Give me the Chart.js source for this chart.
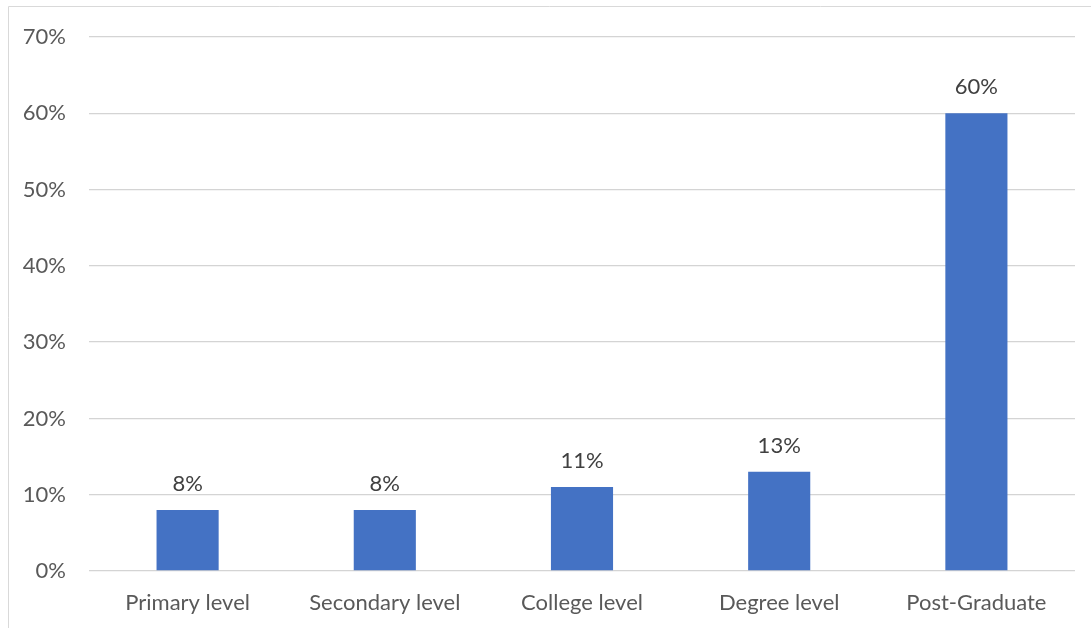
<!DOCTYPE html>
<html>
<head>
<meta charset="utf-8">
<script src="https://cdn.jsdelivr.net/npm/chart.js@4/dist/chart.umd.min.js"></script>
<style>
  html, body { margin: 0; padding: 0; background: #ffffff; }
  #wrap { position: relative; width: 1091px; height: 628px; }
  canvas { display: block; }
</style>
</head>
<body>
<div id="wrap"><canvas id="chart" width="1091" height="628"></canvas></div>
<script>
// Education level of respondents (share of total)
const categories = ["Primary level", "Secondary level", "College level", "Degree level", "Post-Graduate"];
const shares = [8, 8, 11, 13, 60];
const yTicks = [0, 10, 20, 30, 40, 50, 60, 70];

const FONT = "Lato, 'Open Sans', sans-serif";

// Light frame along the top and left edges of the figure
const framePlugin = {
  id: "frame",
  beforeDraw(chart) {
    const ctx = chart.ctx;
    ctx.save();
    ctx.strokeStyle = "#d9d9d9";
    ctx.lineWidth = 1;
    ctx.beginPath();
    ctx.moveTo(8.5, chart.height);
    ctx.lineTo(8.5, 6.5);
    ctx.lineTo(chart.width, 6.5);
    ctx.stroke();
    ctx.restore();
  }
};

// Value labels above each bar
const valueLabels = {
  id: "valueLabels",
  afterDatasetsDraw(chart) {
    const ctx = chart.ctx;
    const meta = chart.getDatasetMeta(0);
    ctx.save();
    ctx.font = "22px " + FONT;
    ctx.fillStyle = "#404040";
    ctx.textAlign = "center";
    ctx.textBaseline = "alphabetic";
    meta.data.forEach((bar, i) => {
      ctx.fillText(shares[i] + "%", bar.x, bar.y - 19);
    });
    ctx.restore();
  }
};

new Chart(document.getElementById("chart"), {
  type: "bar",
  data: {
    labels: categories,
    datasets: [{
      data: shares,
      backgroundColor: "#4472c4",
      borderWidth: 0,
      barPercentage: 0.63,
      categoryPercentage: 0.5
    }]
  },
  options: {
    responsive: false,
    animation: false,
    layout: { padding: { top: 37, right: 16, bottom: 0, left: 0 } },
    plugins: { legend: { display: false }, tooltip: { enabled: false } },
    scales: {
      x: {
        grid: { display: false },
        border: { display: false },
        ticks: { color: "#595959", font: { family: FONT, size: 22 }, padding: 11, maxRotation: 0 },
        afterFit(scale) { scale.height = 57; }
      },
      y: {
        min: 0,
        max: 70,
        afterBuildTicks(scale) { scale.ticks = yTicks.map(v => ({ value: v })); },
        grid: { color: "#d4d4d4", lineWidth: 1.3, drawTicks: false },
        border: { display: false },
        ticks: {
          color: "#595959",
          font: { family: FONT, size: 22 },
          padding: 23,
          callback: v => v + "%"
        },
        afterFit(scale) { scale.width = 89; }
      }
    }
  },
  plugins: [framePlugin, valueLabels]
});
</script>
</body>
</html>
